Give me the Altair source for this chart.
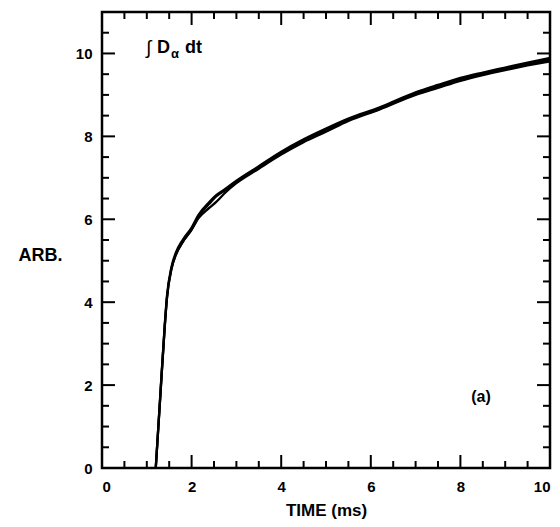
import altair as alt
import pandas as pd

# ---- data ----
time_ms = [1.2, 1.3, 1.4, 1.45, 1.55, 1.65, 1.8, 2.0, 2.15, 2.4, 2.55, 2.75, 3.0, 3.5,
           4.0, 4.5, 5.0, 5.5, 6.2, 7.0, 7.5, 8.0, 8.5, 9.0, 9.5, 10.0]
trace_a = [0, 1.7, 3.4, 4.1, 4.8, 5.15, 5.45, 5.75, 6.05, 6.38, 6.55, 6.7, 6.9, 7.25,
           7.6, 7.9, 8.15, 8.4, 8.67, 9.03, 9.2, 9.38, 9.5, 9.62, 9.74, 9.85]
trace_b = [0, 1.7, 3.4, 4.1, 4.8, 5.15, 5.45, 5.75, 6.02, 6.28, 6.42, 6.64, 6.87, 7.22,
           7.56, 7.86, 8.11, 8.37, 8.65, 9.0, 9.17, 9.34, 9.48, 9.6, 9.71, 9.81]
trace_c = [0, 1.75, 3.45, 4.15, 4.85, 5.2, 5.5, 5.8, 6.1, 6.42, 6.58, 6.73, 6.93, 7.28,
           7.63, 7.93, 8.19, 8.43, 8.7, 9.06, 9.24, 9.41, 9.54, 9.66, 9.78, 9.89]

x_major = [0, 2, 4, 6, 8, 10]
x_minor = [v / 2 for v in range(1, 20) if v % 4 != 0]
y_major = [0, 2, 4, 6, 8, 10]
y_minor = [v / 2 for v in range(1, 22) if v % 4 != 0]

W, H = 448, 456
FONT = "Liberation Sans"

rows = []
for name, vals in (("a", trace_a), ("b", trace_b), ("c", trace_c)):
    for t, v in zip(time_ms, vals):
        rows.append({"t": t, "v": v, "trace": name})
df = pd.DataFrame(rows)

xs = alt.Scale(domain=[0, 10], nice=False)
ys = alt.Scale(domain=[0, 11], nice=False)

lines = alt.Chart(df).mark_line(color="black", strokeWidth=2.3, interpolate="monotone").encode(
    x=alt.X("t:Q", scale=xs, title="TIME (ms)",
            axis=alt.Axis(values=x_major, ticks=False, domain=False, grid=False,
                          labelFont=FONT, labelFontWeight="bold", labelFontSize=15,
                          labelColor="black", labelPadding=11,
                          titleFont=FONT, titleFontWeight="bold", titleFontSize=17,
                          titleColor="black", titleY=42, titleBaseline="middle")),
    y=alt.Y("v:Q", scale=ys, title="ARB.",
            axis=alt.Axis(values=y_major, ticks=False, domain=False, grid=False,
                          labelFont=FONT, labelFontWeight="bold", labelFontSize=15,
                          labelColor="black", labelPadding=10,
                          titleFont=FONT, titleFontWeight="bold", titleFontSize=18,
                          titleColor="black", titleAngle=0, titleX=-62, titleY=243,
                          titleAlign="center", titleBaseline="middle")),
    detail="trace:N",
)

def xticks(vals, length):
    d = pd.DataFrame({"t": vals})
    bottom = alt.Chart(d).mark_rule(color="black", strokeWidth=2).encode(
        x=alt.X("t:Q", scale=xs), y=alt.value(H), y2=alt.value(H - length))
    top = alt.Chart(d).mark_rule(color="black", strokeWidth=2).encode(
        x=alt.X("t:Q", scale=xs), y=alt.value(0), y2=alt.value(length))
    return [bottom, top]

def yticks(vals, length):
    d = pd.DataFrame({"v": vals})
    left = alt.Chart(d).mark_rule(color="black", strokeWidth=2).encode(
        y=alt.Y("v:Q", scale=ys), x=alt.value(0), x2=alt.value(length))
    right = alt.Chart(d).mark_rule(color="black", strokeWidth=2).encode(
        y=alt.Y("v:Q", scale=ys), x=alt.value(W), x2=alt.value(W - length))
    return [left, right]

tick_layers = xticks(x_major, 13) + xticks(x_minor, 7) + yticks(y_major, 13) + yticks(y_minor, 7)

def label(text, x, y, size, weight="bold", align="left"):
    return alt.Chart(pd.DataFrame({"s": [text]})).mark_text(
        font=FONT, fontSize=size, fontWeight=weight, color="black", align=align,
        baseline="middle").encode(text="s:N", x=alt.value(x), y=alt.value(y))

texts = [
    label("\u222b", 44, 36, 19, weight="normal"),
    label("D", 55, 36, 18),
    label("\u03b1", 69, 42, 13),
    label("dt", 83, 36, 18),
    label("(a)", 379, 385, 16, align="center"),
]

chart = alt.layer(lines, *tick_layers, *texts).properties(
    width=W, height=H,
    autosize=alt.AutoSizeParams(type="none"),
    padding={"left": 94, "top": 4, "right": 2, "bottom": 51},
).configure_view(stroke="black", strokeWidth=2.5)

chart.save("out.html", embed_options={"renderer": "svg", "actions": False})
